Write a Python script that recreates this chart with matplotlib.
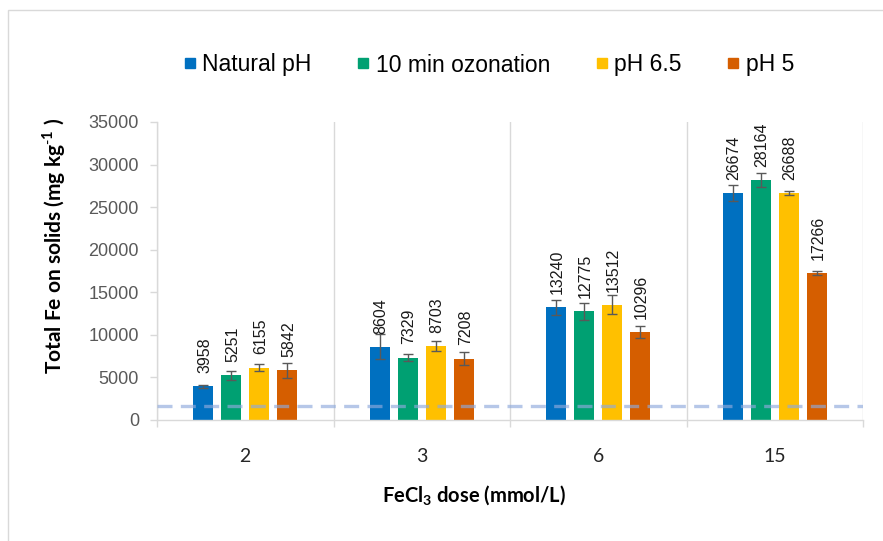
import matplotlib
matplotlib.use("Agg")
import matplotlib.pyplot as plt
from matplotlib.lines import Line2D
from matplotlib.patches import Rectangle
import numpy as np

doses = ["2", "3", "6", "15"]
series_names = ["Natural pH", "10 min ozonation", "pH 6.5", "pH 5"]
natural_ph = [3958, 8604, 13240, 26674]
ozonation = [5251, 7329, 12775, 28164]
ph65 = [6155, 8703, 13512, 26688]
ph5 = [5842, 7208, 10296, 17266]
err_natural = [150, 1490, 900, 900]
err_ozon = [550, 430, 980, 840]
err_ph65 = [430, 620, 1120, 250]
err_ph5 = [880, 800, 700, 230]
reference_level = 1650
y_ticks = [0, 5000, 10000, 15000, 20000, 25000, 30000, 35000]

values = [natural_ph, ozonation, ph65, ph5]
errors = [err_natural, err_ozon, err_ph65, err_ph5]
colors = ["#0070C0", "#00A072", "#FFC000", "#D55E00"]

plt.rcParams["mathtext.fontset"] = "custom"
plt.rcParams["mathtext.rm"] = "Lato"
plt.rcParams["mathtext.bf"] = "Lato:bold"

W, H = 883, 541
fig = plt.figure(figsize=(W / 100, H / 100), dpi=100)
ax = fig.add_axes([157 / W, 1 - 420 / H, 706 / W, 298 / H])

x = np.arange(len(doses))
step = 0.159
width = 0.113
for i, (vals, errs, c) in enumerate(zip(values, errors, colors)):
    pos = x + (i - 1.5) * step
    ax.bar(pos, vals, width=width, color=c, zorder=2)
    ax.errorbar(pos, vals, yerr=errs, fmt="none", ecolor="#595959",
                elinewidth=1.0, capsize=3.5, capthick=1.0, zorder=3)
    for px, v in zip(pos, vals):
        ax.annotate(f"{v}", (px, v), xytext=(1, 9.5), textcoords="offset points",
                    rotation=90, ha="center", va="bottom", fontsize=11.5,
                    family="Liberation Sans", color="#1a1a1a", zorder=4)

ax.axhline(reference_level, color="#8FAADC", alpha=0.65, lw=2.4,
           dashes=(4.5, 2.5), zorder=3.5)

ax.set_xlim(-0.5, len(doses) - 0.5)
ax.set_ylim(0, 35000)
ax.set_yticks(y_ticks)
ax.set_yticklabels([str(t) for t in y_ticks], family="Liberation Sans",
                   fontsize=13, color="#595959")
ax.set_xticks(x)
ax.set_xticklabels(doses, family="Lato", fontsize=14, color="#262626")
ax.set_xticks(np.arange(len(doses) + 1) - 0.5, minor=True)
ax.tick_params(axis="x", which="major", length=0, pad=20)
ax.tick_params(axis="x", which="minor", length=5, color="#d9d9d9", width=1)
ax.tick_params(axis="y", length=5, color="#d9d9d9", width=1, pad=8)

for b in np.arange(len(doses) + 1) - 0.5:
    ax.axvline(b, color="#d9d9d9", lw=1, zorder=1)

for s in ["top", "right"]:
    ax.spines[s].set_visible(False)
for s in ["left", "bottom"]:
    ax.spines[s].set_color("#d9d9d9")
    ax.spines[s].set_linewidth(1)

fig.text(54 / W, 1 - 246 / H, r"Total Fe on solids (mg kg$^{\mathbf{\text{-}1}}$ )",
         rotation=90, ha="center", va="center", fontsize=15,
         family="Lato", weight="bold", color="#000000")
fig.text(474 / W, 1 - 495 / H, r"FeCl$_{\mathbf{3}}$ dose (mmol/L)",
         ha="center", va="center", fontsize=14.5,
         family="Lato", weight="bold", color="#000000")

handles = [Line2D([], [], marker="s", linestyle="none", markersize=7.5,
                  markerfacecolor=c, markeredgecolor=c) for c in colors]
leg = fig.legend(handles, series_names, loc="center left",
                 bbox_to_anchor=(184 / W, 1 - 65 / H), ncol=4, frameon=False,
                 prop={"family": "Liberation Sans", "size": 16.5},
                 handlelength=0.5, handletextpad=0.3, columnspacing=2.0,
                 borderpad=0, borderaxespad=0)

fig.patches.append(Rectangle((8 / W, -0.1), 1.2, 1 - 10 / H + 0.1,
                             transform=fig.transFigure, fill=False,
                             edgecolor="#d9d9d9", lw=1))

fig.savefig("out.png", dpi=100)
